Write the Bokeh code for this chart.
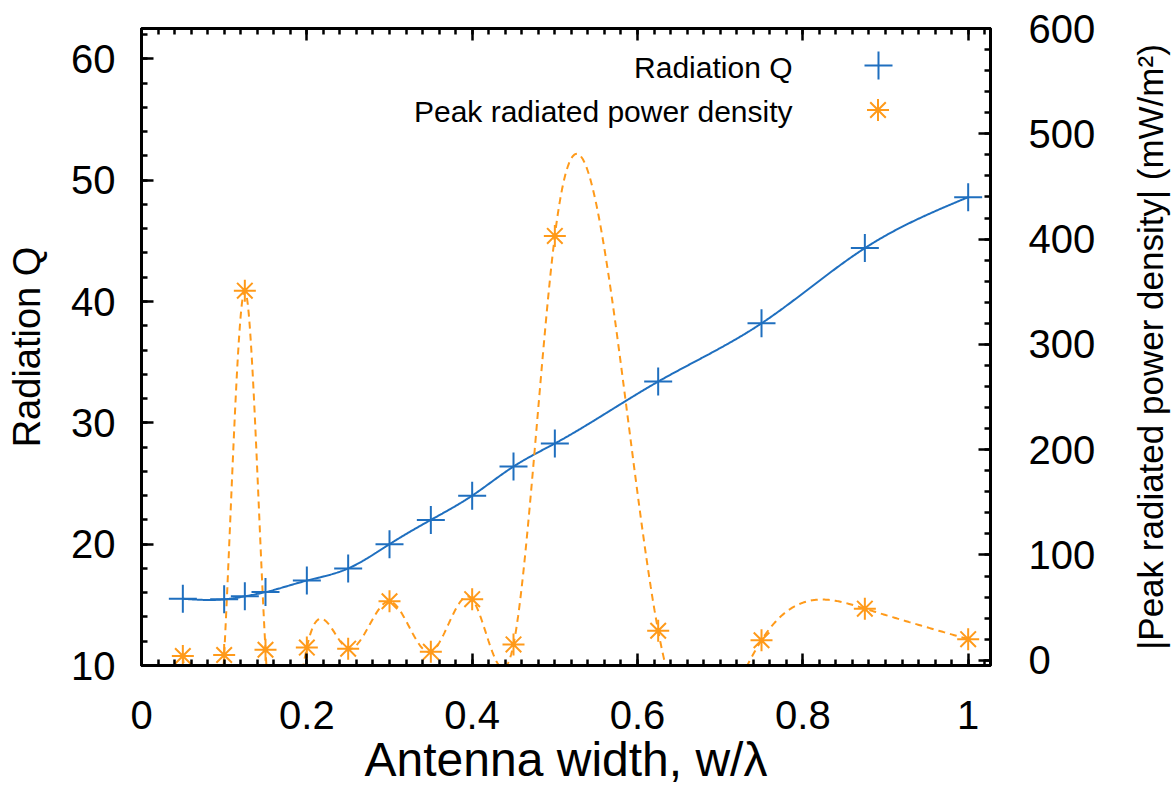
import numpy as np
from bokeh.plotting import figure
from bokeh.layouts import row
from bokeh.models import (Range1d, LinearAxis, SingleIntervalTicker, Legend,
                          LegendItem, Label, Title)
from bokeh.core.properties import value
from bokeh.embed import file_html
from bokeh.resources import INLINE

# ---- data ----
width_ratio = [0.05, 0.1, 0.125, 0.15, 0.2, 0.25, 0.3, 0.35, 0.4, 0.45, 0.5,
               0.625, 0.75, 0.875, 1.0]
radiation_q = [15.5, 15.45, 15.7, 16.05, 17.0, 18.0, 20.0, 22.0, 24.0, 26.4,
               28.3, 33.4, 38.2, 44.4, 48.6]
peak_density = [4, 5, 351, 10, 12, 11, 56, 8, 58, 15, 403, 28, 19, 49, 20]

series_names = ["Radiation Q", "Peak radiated power density"]
x_label = "Antenna width, w/λ"
y_label = "Radiation Q"
y2_label = "|Peak radiated power density| (mW/m²)"

BLUE = "#1f6fbf"
ORANGE = "#ff9a1a"
FONT = "Liberation Sans"


def csplines(x, y, n=800):
    """Natural cubic spline smoothing (like gnuplot 'smooth csplines')."""
    x = np.asarray(x, float)
    y = np.asarray(y, float)
    m = len(x)
    h = np.diff(x)
    A = np.zeros((m, m))
    r = np.zeros(m)
    A[0, 0] = A[-1, -1] = 1.0
    for i in range(1, m - 1):
        A[i, i - 1] = h[i - 1]
        A[i, i] = 2 * (h[i - 1] + h[i])
        A[i, i + 1] = h[i]
        r[i] = 3 * ((y[i + 1] - y[i]) / h[i] - (y[i] - y[i - 1]) / h[i - 1])
    c = np.linalg.solve(A, r)
    b = (y[1:] - y[:-1]) / h - h * (2 * c[:-1] + c[1:]) / 3
    d = (c[1:] - c[:-1]) / (3 * h)
    xs = np.linspace(x[0], x[-1], n)
    idx = np.clip(np.searchsorted(x, xs, side="right") - 1, 0, m - 2)
    dx = xs - x[idx]
    ys = y[idx] + b[idx] * dx + c[idx] * dx ** 2 + d[idx] * dx ** 3
    return xs, ys


p = figure(width=1128, height=800, output_backend="svg", toolbar_location=None,
           x_range=Range1d(0, 1.027), y_range=Range1d(10, 62.5),
           x_axis_location=None, y_axis_location=None,
           min_border_left=141, min_border_right=138, min_border_top=28,
           min_border_bottom=135)
p.extra_y_ranges = {"y2": Range1d(-5, 600)}
p.grid.visible = False
p.outline_line_color = "black"
p.outline_line_width = 3
p.background_fill_color = "white"
p.border_fill_color = "white"

bottom_axis = LinearAxis(ticker=SingleIntervalTicker(interval=0.2, num_minor_ticks=10),
                         axis_label=x_label)
left_axis = LinearAxis(ticker=SingleIntervalTicker(interval=10, num_minor_ticks=5),
                       axis_label=y_label)
right_axis = LinearAxis(y_range_name="y2",
                        ticker=SingleIntervalTicker(interval=100, num_minor_ticks=5))
top_axis = LinearAxis(ticker=SingleIntervalTicker(interval=0.2, num_minor_ticks=10),
                      major_label_text_font_size="0px", major_label_standoff=0)
p.add_layout(bottom_axis, "below")
p.add_layout(left_axis, "left")
p.add_layout(right_axis, "right")
p.add_layout(top_axis, "above")

for ax in [bottom_axis, left_axis, right_axis, top_axis]:
    ax.axis_line_width = 3
    ax.axis_line_color = "black"
    ax.major_tick_in = 12
    ax.major_tick_out = 0
    ax.minor_tick_in = 6
    ax.minor_tick_out = 0
    ax.major_tick_line_width = 2.5
    ax.minor_tick_line_width = 2.5
    ax.major_tick_line_color = "black"
    ax.minor_tick_line_color = "black"
    ax.axis_label_text_font = FONT
    ax.axis_label_text_font_style = "normal"
    ax.axis_label_text_font_size = "38px"
    ax.axis_label_text_color = "black"
    ax.major_label_text_font = FONT
    ax.major_label_text_color = "black"

for ax in [bottom_axis, left_axis, right_axis]:
    ax.major_label_text_font_size = "40px"

bottom_axis.axis_label_text_font_size = "48px"
bottom_axis.major_label_standoff = 35
bottom_axis.axis_label_standoff = 1
left_axis.major_label_standoff = 26
left_axis.axis_label_standoff = 20
right_axis.major_label_standoff = 38

# ---- curves ----
xs_q, ys_q = csplines(width_ratio, radiation_q)
xs_p, ys_p = csplines(width_ratio, peak_density)

p.line(xs_q, ys_q, line_color=BLUE, line_width=2)
p.line(xs_p, ys_p, line_color=ORANGE, line_width=2, line_dash="7 5",
       y_range_name="y2")

r_q = p.scatter(width_ratio, radiation_q, marker="cross", size=28,
                line_color=BLUE, line_width=2)
r_p = p.scatter(width_ratio, peak_density, marker="asterisk", size=22,
                line_color=ORANGE, line_width=2, y_range_name="y2")

# ---- key (gnuplot style: text left, symbol right) ----
leg_common = dict(padding=0, margin=0, spacing=0, label_standoff=0,
                  label_width=0, label_height=0, label_text_font_size="1px",
                  border_line_color=None, background_fill_alpha=0)
leg1 = Legend(items=[LegendItem(label=value(" "), renderers=[r_q])],
              location=(702, 565), glyph_width=70, glyph_height=70, **leg_common)
leg2 = Legend(items=[LegendItem(label=value(" "), renderers=[r_p])],
              location=(709, 528), glyph_width=55, glyph_height=55, **leg_common)
p.add_layout(leg1)
p.add_layout(leg2)

for txt, yy in zip(series_names, [598, 554]):
    p.add_layout(Label(x=651, y=yy, x_units="screen", y_units="screen",
                       text=txt, text_align="right", text_baseline="middle",
                       text_font=FONT, text_font_size="30px",
                       text_color="black"))

# ---- right-hand title strip (reads bottom-to-top, as in the reference) ----
p2 = figure(width=46, height=800, output_backend="svg", toolbar_location=None,
            title_location=None,
            x_range=Range1d(0, 1), y_range=Range1d(0, 1),
            x_axis_location=None, y_axis_location=None, min_border=0,
            min_border_left=0, min_border_right=0, min_border_top=0,
            min_border_bottom=0)
p2.grid.visible = False
p2.outline_line_color = None
p2.background_fill_color = "white"
p2.border_fill_color = "white"
p2.add_layout(Title(text=y2_label, align="center", offset=25, standoff=0,
                    text_font=FONT, text_font_size="35px",
                    text_font_style="normal", text_color="black"), "left")

layout = row(p, p2)
open("out.html", "w").write(file_html(layout, INLINE))
